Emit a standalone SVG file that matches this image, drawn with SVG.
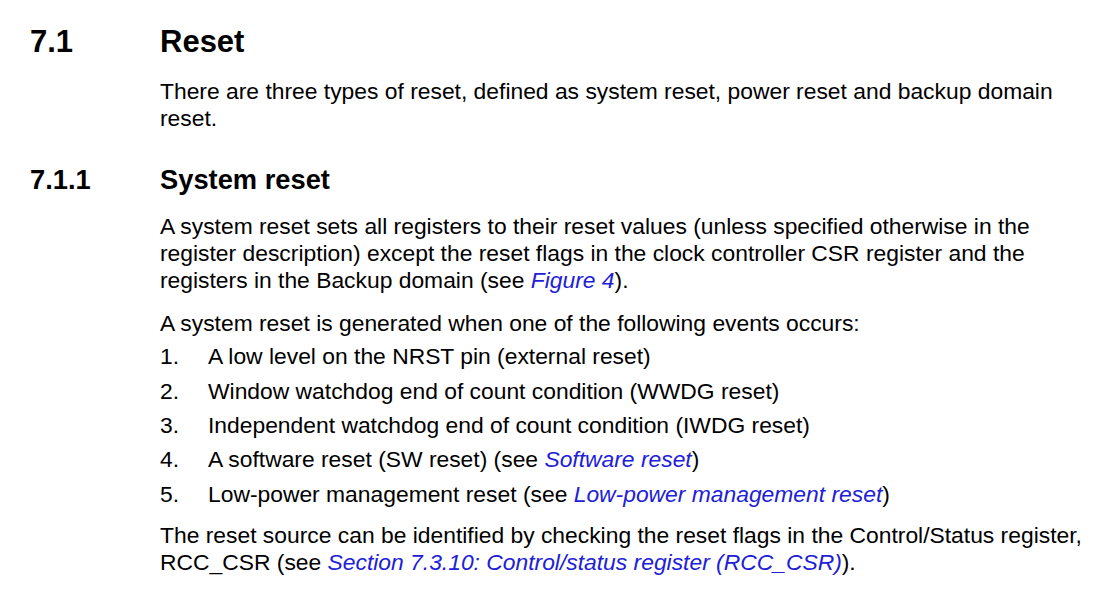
<svg xmlns="http://www.w3.org/2000/svg" width="1105" height="590" viewBox="0 0 1105 590">
<style>
text{font-family:"Liberation Sans",Arial,sans-serif;fill:#000}
.h1{font-size:31px;font-weight:bold}
.h2{font-size:27.3px;font-weight:bold}
.b{font-size:22.85px}
.l{fill:#2020d8;font-style:italic}
</style>
<rect width="1105" height="590" fill="#fff"/>
<g id="sec71">
<text class="h1" x="30" y="52">7.1</text>
<text class="h1" x="160" y="52">Reset</text>
<text class="b" x="160" y="99">There are three types of reset, defined as system reset, power reset and backup domain</text>
<text class="b" x="160" y="126">reset.</text>
</g>
<g id="sec711">
<text class="h2" x="30" y="189">7.1.1</text>
<text class="h2" x="160" y="189">System reset</text>
<text class="b" x="160" y="234">A system reset sets all registers to their reset values (unless specified otherwise in the</text>
<text class="b" x="160" y="261">register description) except the reset flags in the clock controller CSR register and the</text>
<text class="b" x="160" y="288">registers in the Backup domain (see <tspan class="l">Figure 4</tspan>).</text>
<text class="b" x="160" y="331">A system reset is generated when one of the following events occurs:</text>
</g>
<g id="list">
<text class="b" x="160" y="364">1.</text><text class="b" x="208" y="364">A low level on the NRST pin (external reset)</text>
<text class="b" x="160" y="399">2.</text><text class="b" x="208" y="399">Window watchdog end of count condition (WWDG reset)</text>
<text class="b" x="160" y="433">3.</text><text class="b" x="208" y="433">Independent watchdog end of count condition (IWDG reset)</text>
<text class="b" x="160" y="467">4.</text><text class="b" x="208" y="467">A software reset (SW reset) (see <tspan class="l">Software reset</tspan>)</text>
<text class="b" x="160" y="502">5.</text><text class="b" x="208" y="502">Low-power management reset (see <tspan class="l">Low-power management reset</tspan>)</text>
</g>
<g id="final">
<text class="b" x="160" y="543">The reset source can be identified by checking the reset flags in the Control/Status register,</text>
<text class="b" x="160" y="570">RCC_CSR (see <tspan class="l">Section 7.3.10: Control/status register (RCC_CSR)</tspan>).</text>
</g>
</svg>
